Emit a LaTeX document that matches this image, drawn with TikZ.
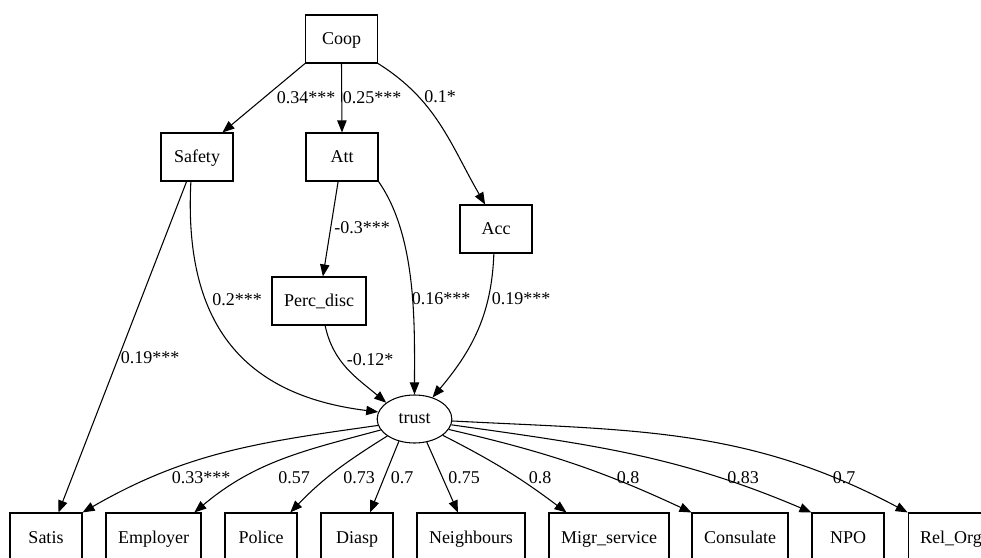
\documentclass[tikz,border=0pt]{standalone}
\usepackage{fontspec}
\setmainfont{Liberation Serif}
\usetikzlibrary{arrows.meta,shapes.geometric}

\begin{document}
\begin{tikzpicture}[x=0.75pt, y=0.75pt,
        font=\fontsize{13.5}{16}\selectfont,
        var/.style={draw, rectangle, line width=0.8pt, minimum width=54pt, minimum height=36pt, inner xsep=9pt,
            text height=11pt, text depth=2pt},
        lat/.style={draw, ellipse, line width=0.8pt, minimum width=56pt, minimum height=36pt, inner sep=0pt},
        reg/.style={draw, line width=0.8pt, -{Triangle[length=9pt,width=7pt]}},
        coef/.style={inner sep=1pt}]
        \useasboundingbox (0,0) rectangle (981,557);
        \clip (0,0) rectangle (981,557);
        % upper part of the model
        \node[var] (coop) at (341.5,518) {Coop};
        \node[var] (safety) at (197,400) {Safety};
        \node[var] (att) at (342,400) {Att};
        \node[var] (acc) at (496,328) {Acc};
        \node[var] (perc) at (319,256) {Perc\_disc};
        \node[lat] (trust) at (414.5,138) {trust};
        % indicators of trust
        \foreach \n/\x/\t in {satis/46/Satis, employer/153.5/Employer, police/261/Police, diasp/357/Diasp,
                neighb/471/Neighbours, migr/609/Migr\_service, consul/740/Consulate, npo/848/NPO, relorg/951/Rel\_Org}
            \node[var] (\n) at (\x,20) {\t};
        \path [every edge/.append style={reg}]
        (coop.south west) edge (safety.44)
        (coop.south) edge (att.north)
        (coop.south east) edge [out=-32, in=120] (acc.114)
        (safety.-113) edge (satis.63)
        (safety.-104) edge [out=-93, in=173, looseness=1.2] (trust.169)
        (att.-99) edge (perc.81)
        (att.south east) edge [out=-55, in=90, looseness=0.8] (trust.north)
        (acc.-95) edge [out=-92, in=50] (trust.50)
        (perc.-76) edge [out=-78, in=140] (trust.150);
        \path [every edge/.append style={reg}]
        (trust.190) edge [out=188, in=30] (satis.north east)
        (trust.198) edge [out=195, in=40] (employer.31)
        (trust.212) edge [out=212, in=46] (police.40)
        (trust.235) edge (diasp.62)
        (trust.-62) edge (neighb.118)
        (trust.-30) edge [out=-27, in=143] (migr.150)
        (trust.-17) edge [out=-13, in=155] (consul.north west)
        (trust.-9) edge [out=-8, in=157] (npo.north west)
        (trust.-3) edge [out=-3, in=152] (relorg.north west);
        % path coefficients
        \node[coef] (c1) at (306,459) {0.34***};
        \node[coef] (c2) at (372,459) {0.25***};
        \node[coef] (c3) at (440,460) {0.1*};
        \node[coef] (c4) at (150,199) {0.19***};
        \node[coef] (c5) at (237,257) {0.2***};
        \node[coef] (c6) at (362,329) {-0.3***};
        \node[coef] (c7) at (441,258) {0.16***};
        \node[coef] (c8) at (521,258) {0.19***};
        \node[coef] (c9) at (370,197) {-0.12*};
        \foreach \x/\v [count=\i] in {201/0.33***, 294/0.57, 359/0.73, 402/0.7, 464/0.75,
                540/0.8, 628/0.8, 743/0.83, 844/0.7}
            \node[coef] (l\i) at (\x,79) {\v};
    \end{tikzpicture}
\end{document}
